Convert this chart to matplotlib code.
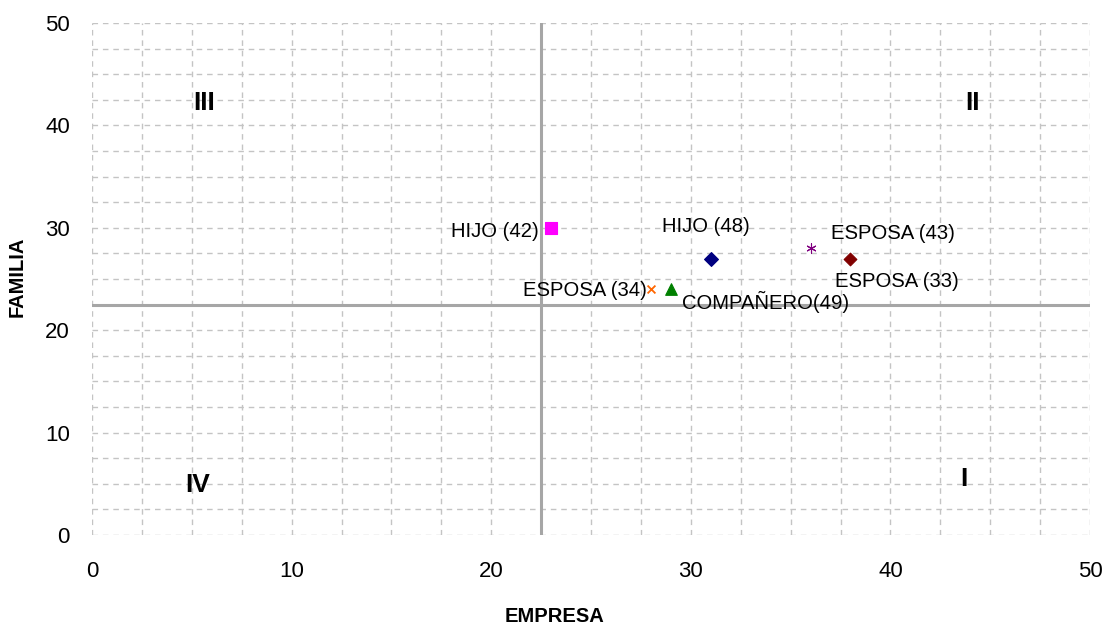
import matplotlib
matplotlib.use("Agg")
import matplotlib.pyplot as plt
import numpy as np

plt.rcParams['font.family'] = ['Liberation Sans', 'DejaVu Sans']

# Positions of each relation on the EMPRESA / FAMILIA plane
labels = ["HIJO (42)", "HIJO (48)", "ESPOSA (43)", "ESPOSA (33)", "ESPOSA (34)", "COMPAÑERO(49)"]
empresa = [23, 31, 36, 38, 28, 29]
familia = [30, 27, 28, 27, 24, 24]

# Quadrant dividers
x_split = 22.5
y_split = 22.5

quadrants = ["I", "II", "III", "IV"]
quad_x = [43.7, 44.1, 5.6, 5.3]
quad_y = [5.5, 42.2, 42.2, 4.9]

markers = ["s", "D", (6, 2, 0), "D", "x", "^"]
colors = ["#FF00FF", "#000080", "#800080", "#800000", "#FF6600", "#008000"]
sizes = [65, 50, 45, 42, 32, 70]
# label placement, in pixels from the marker
label_offsets = [(-12, -4), (-5, 32), (20, 15), (-15, -23), (-4, -1), (11, -13)]
label_align = ["right", "center", "left", "left", "right", "left"]

fig = plt.figure(figsize=(11.1, 6.32), dpi=100)
ax = fig.add_axes([92 / 1110, 97 / 632, 998 / 1110, 512 / 632])

ax.set_xlim(0, 50)
ax.set_ylim(0, 50)
ax.set_xticks(np.arange(0, 51, 10))
ax.set_yticks(np.arange(0, 51, 10))
ax.set_xticks(np.arange(0, 50.1, 2.5), minor=True)
ax.set_yticks(np.arange(0, 50.1, 2.5), minor=True)
ax.grid(True, which="both", color="#c4c4c4", linestyle=(0, (4, 3.5)), linewidth=1.0)
ax.tick_params(which="both", length=0)
ax.tick_params(axis="x", pad=19, labelsize=16)
ax.tick_params(axis="y", pad=16, labelsize=16)
for s in ax.spines.values():
    s.set_visible(False)
ax.set_axisbelow(True)

ax.axvline(x_split, color="#a6a6a6", linewidth=2.2, zorder=2)
ax.axhline(y_split, color="#a6a6a6", linewidth=2.2, zorder=2)

for i in range(len(labels)):
    ax.scatter(empresa[i], familia[i], marker=markers[i], s=sizes[i],
               color=colors[i], linewidths=1.3 if markers[i] == "x" else 0.8,
               zorder=4)
    ax.annotate(labels[i], (empresa[i], familia[i]), xytext=label_offsets[i],
                textcoords="offset pixels", ha=label_align[i], va="center",
                fontsize=14.6, zorder=5)

for q, qx, qy in zip(quadrants, quad_x, quad_y):
    ax.text(qx, qy, q, fontsize=19, fontweight="bold", ha="center", va="center")

ax.set_xlabel("EMPRESA", fontsize=14.5, fontweight="bold", va="center")
ax.xaxis.set_label_coords((555 - 92) / 998, (535 - 616) / 512)
ax.set_ylabel("FAMILIA", fontsize=14.5, fontweight="bold", va="center")
ax.yaxis.set_label_coords((17.5 - 92) / 998, (535 - 277) / 512)

fig.savefig("out.png", dpi=100)
